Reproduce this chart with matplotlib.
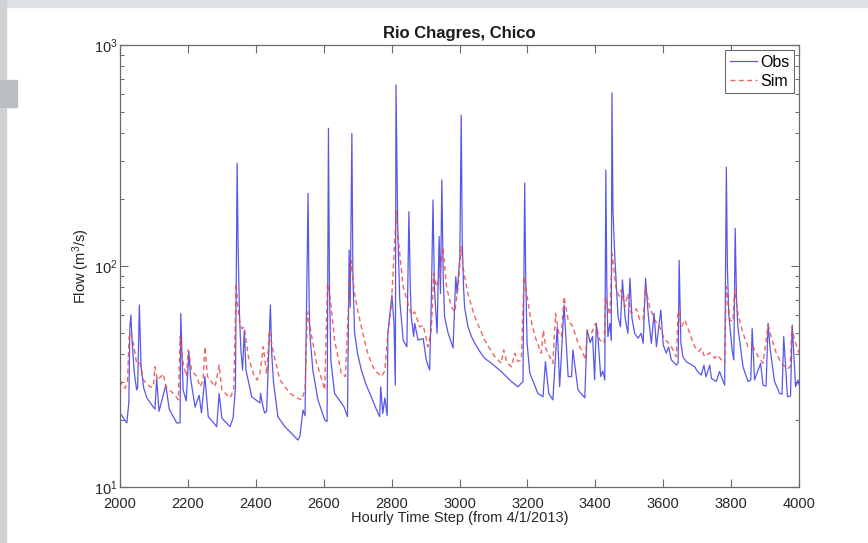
import numpy as np
import matplotlib
matplotlib.use("Agg")
import matplotlib.pyplot as plt
from matplotlib.patches import Rectangle
from matplotlib.ticker import LogLocator, NullLocator, NullFormatter

plt.rcParams["font.family"] = ["Liberation Sans", "DejaVu Sans"]
plt.rcParams["mathtext.fontset"] = "custom"
plt.rcParams["mathtext.rm"] = "Liberation Sans"
plt.rcParams["mathtext.it"] = "Liberation Sans:italic"

obs_t = [2000, 2020, 2026, 2029, 2032, 2036, 2042, 2049, 2052, 2057, 2062, 2070, 2079, 2098, 2103,
         2108, 2115, 2135, 2145, 2167, 2177, 2179, 2186, 2195, 2203, 2208, 2221, 2233, 2240, 2250,
         2260, 2285, 2292, 2300, 2324, 2333, 2340, 2345, 2348, 2352, 2356, 2361, 2366, 2371, 2388,
         2412, 2414, 2420, 2426, 2432, 2443, 2447, 2452, 2465, 2485, 2505, 2524, 2530, 2539, 2545,
         2554, 2557, 2559, 2568, 2583, 2603, 2610, 2614, 2617, 2621, 2632, 2652, 2660, 2670, 2675,
         2678, 2683, 2686, 2691, 2700, 2711, 2725, 2740, 2755, 2765, 2768, 2774, 2780, 2787, 2789,
         2801, 2807, 2811, 2813, 2818, 2824, 2834, 2845, 2851, 2855, 2858, 2865, 2868, 2878, 2893,
         2902, 2912, 2917, 2922, 2926, 2934, 2940, 2944, 2948, 2952, 2956, 2966, 2981, 2989, 2993,
         3001, 3005, 3008, 3012, 3015, 3025, 3035, 3045, 3060, 3074, 3094, 3123, 3153, 3172, 3187,
         3192, 3195, 3199, 3207, 3231, 3246, 3253, 3263, 3275, 3288, 3295, 3308, 3320, 3330, 3334,
         3349, 3369, 3376, 3385, 3392, 3398, 3403, 3408, 3416, 3422, 3428, 3431, 3434, 3437, 3443,
         3447, 3449, 3452, 3457, 3467, 3474, 3480, 3488, 3496, 3502, 3508, 3516, 3526, 3535, 3541,
         3548, 3556, 3565, 3573, 3580, 3593, 3600, 3609, 3616, 3624, 3639, 3644, 3647, 3652, 3658,
         3668, 3693, 3700, 3712, 3720, 3726, 3737, 3742, 3756, 3766, 3775, 3781, 3786, 3789, 3793,
         3803, 3808, 3812, 3816, 3820, 3835, 3850, 3858, 3862, 3869, 3887, 3894, 3903, 3909, 3915,
         3928, 3943, 3950, 3955, 3966, 3975, 3980, 3990, 3997, 4000]
obs_q = [21.6, 19.5, 24, 53, 60, 45, 33, 27.5, 28, 66.6, 35, 28, 25.3, 23, 22.5,
         31, 22, 28.9, 22.5, 19.5, 19.5, 61, 27.5, 24.5, 41, 31, 23, 26, 21.6, 31.6,
         20.8, 18.75, 26.5, 20.5, 18.75, 20.5, 28, 292, 120, 60, 42, 33.8, 51, 33.8, 25.6,
         24, 26.5, 23.5, 21.6, 22, 66.6, 40, 30, 20.8, 18.8, 17.5, 16.3, 17, 22.3, 21,
         213, 70, 49.6, 33.8, 24.8, 20.1, 19.8, 420, 80, 37.6, 26.5, 24, 23, 20.8, 118,
         65, 398, 90, 49.6, 40, 33.8, 29, 25.6, 22.5, 20.8, 28.4, 21.5, 25.3, 21, 49.6,
         73.9, 55, 28.9, 660, 150, 70.2, 46.2, 43.1, 176, 80, 59, 48, 55, 46.2, 47,
         37.6, 33.8, 70, 199, 80, 49.6, 136, 75, 245, 90, 59, 50, 42.6, 89.5, 75,
         110, 482, 130, 80, 65, 53.1, 48, 44.7, 41, 38.2, 36.3, 33.3, 30.0, 28.4, 30.0,
         237, 90, 45, 32.8, 26.5, 25.6, 36.9, 26.5, 24.8, 53.1, 28.4, 66.6, 31.6, 31.6, 41.7,
         27.5, 25.3, 51.3, 45, 48, 30.5, 55, 47, 31.6, 33.5, 30.5, 272, 80, 47.9, 55,
         46, 607, 180, 114, 59, 53.1, 86.5, 58, 49.6, 88, 58, 49.6, 47.1, 49.6, 44.7,
         88, 60, 44.7, 61.1, 43.1, 63.2, 44, 40.3, 43, 37.6, 35.6, 36.5, 106, 45, 38.9,
         36.9, 35, 33.5, 32.1, 35.6, 31.5, 35.6, 31, 30, 33.3, 30.5, 28.9, 280, 100, 61.1,
         41.7, 37.6, 148, 70, 53.1, 35, 30, 30.5, 52.2, 30.5, 36.3, 28.9, 28.6, 55, 42,
         30, 26.5, 26.3, 47.9, 25.6, 25.8, 54.1, 28.4, 30.5, 29]

# simulated flow
sim_t = [2000, 2009, 2015, 2022, 2027, 2032, 2040, 2049, 2059, 2069, 2088, 2098, 2103, 2110, 2128,
         2135, 2157, 2172, 2177, 2186, 2196, 2201, 2211, 2226, 2236, 2245, 2250, 2258, 2280, 2292,
         2300, 2324, 2335, 2342, 2347, 2353, 2360, 2366, 2378, 2393, 2403, 2412, 2422, 2432, 2440,
         2450, 2471, 2501, 2520, 2535, 2545, 2552, 2563, 2579, 2583, 2603, 2611, 2620, 2632, 2652,
         2664, 2672, 2681, 2686, 2691, 2700, 2711, 2720, 2730, 2740, 2750, 2770, 2780, 2789, 2799,
         2814, 2818, 2824, 2834, 2848, 2858, 2868, 2883, 2893, 2907, 2917, 2924, 2932, 2942, 2951,
         2962, 2976, 2986, 2996, 3005, 3010, 3018, 3025, 3035, 3045, 3060, 3074, 3090, 3104, 3123,
         3130, 3140, 3153, 3163, 3172, 3182, 3190, 3197, 3207, 3215, 3226, 3241, 3247, 3255, 3275,
         3283, 3292, 3300, 3308, 3320, 3334, 3349, 3364, 3371, 3376, 3390, 3401, 3413, 3426, 3430,
         3437, 3443, 3450, 3455, 3462, 3470, 3477, 3487, 3496, 3506, 3521, 3531, 3541, 3548, 3560,
         3575, 3590, 3604, 3612, 3624, 3639, 3644, 3654, 3664, 3678, 3693, 3705, 3712, 3722, 3737,
         3752, 3760, 3776, 3781, 3786, 3796, 3805, 3811, 3820, 3835, 3850, 3865, 3880, 3894, 3909,
         3918, 3933, 3948, 3966, 3974, 3979, 3987, 3997, 4000]
sim_q = [30.5, 28.4, 28, 30, 47.9, 50, 44, 36.3, 36.3, 30.5, 28.4, 28.4, 35, 30.5, 32.5,
         28.4, 26.5, 24.8, 47.9, 36.3, 31.6, 41.7, 33.8, 31.6, 28.4, 30.5, 43.1, 31.6, 28.4, 35.6,
         27.5, 25.3, 27.5, 83.5, 65, 55, 52, 53, 38.9, 32.5, 30.5, 32.5, 43.1, 32.5, 51.3,
         41.7, 30.5, 26.5, 25.3, 24.8, 27.5, 62, 49.6, 36.3, 35, 27.5, 83.5, 70, 46.2, 32.5,
         31.6, 61, 106, 88, 75, 63, 53, 46, 40.3, 36.5, 33.8, 31.6, 33.5, 49.6, 65.4,
         179, 140, 114, 80.6, 67.8, 60, 62, 53, 54, 43.1, 51.3, 92.7, 80.6, 89.5, 122,
         80, 65.4, 62, 80.6, 122, 99.3, 85, 75, 66, 59, 52, 46.2, 42, 38.9, 36.3,
         41.7, 36.5, 35, 40.3, 37, 37.6, 89.5, 77, 61, 53, 46.2, 40.3, 51.3, 42, 36.3,
         61, 50, 48, 72.6, 57, 53, 44.7, 40.3, 37.6, 51.3, 50, 55, 46.2, 44.7, 72.6,
         65, 60, 114, 95, 78, 73, 78, 65.4, 75, 61, 64, 57, 57, 80.6, 65.4,
         57, 53, 46.2, 45.5, 43.1, 38.9, 63, 53, 57, 49.6, 43.1, 41, 42.4, 38.9, 40.5,
         38.3, 39.5, 36.9, 36.3, 80.6, 57, 56, 78, 61, 49.6, 43.1, 43, 38.9, 36.3, 54,
         47.9, 40.3, 36.3, 34.2, 35, 53, 46.2, 41.7, 40.3]

x_ticks = [2000, 2200, 2400, 2600, 2800, 3000, 3200, 3400, 3600, 3800, 4000]

fig = plt.figure(figsize=(8.68, 5.43), dpi=100)

# slide-like grey border from the screenshot
fig.patches.append(Rectangle((0, 1 - 7 / 543), 1, 7 / 543, transform=fig.transFigure,
                             color="#e0e3e6", zorder=0))
fig.patches.append(Rectangle((0, 0), 6 / 868, 1, transform=fig.transFigure,
                             color="#d0d3d6", zorder=0))
fig.patches.append(Rectangle((0, 1 - 107 / 543), 17 / 868, 27 / 543, transform=fig.transFigure,
                             color="#bcbfc2", zorder=0))

ax = fig.add_axes([120 / 868, 1 - 487 / 543, 679 / 868, 442 / 543])
ax.plot(obs_t, obs_q, color="#3a3ae8", lw=0.9, alpha=0.85, label="Obs")
ax.plot(sim_t, sim_q, color="#ec4b45", lw=1.0, ls=(0, (3.5, 2.5)), alpha=0.85, label="Sim")

ax.set_yscale("log")
ax.set_xlim(2000, 4000)
ax.set_ylim(10, 1000)
ax.set_xticks(x_ticks)
ax.xaxis.set_minor_locator(NullLocator())
ax.yaxis.set_major_locator(LogLocator(base=10, numticks=5))
ax.yaxis.set_minor_locator(LogLocator(base=10, subs=np.arange(2, 10), numticks=20))
ax.yaxis.set_minor_formatter(NullFormatter())

for s in ax.spines.values():
    s.set_color("#6a6a6a")
    s.set_linewidth(0.9)
ax.tick_params(which="both", direction="in", top=True, right=True, colors="#6a6a6a",
               labelcolor="#262626", labelsize=10.5)
ax.tick_params(which="major", length=6, width=0.8)
ax.tick_params(which="minor", length=3, width=0.7)
ax.tick_params(axis="x", pad=7)
ax.tick_params(axis="y", pad=2)

ax.set_title("Rio Chagres, Chico", fontsize=12, fontweight="bold", color="#1a1a1a", pad=5)
ax.set_xlabel("Hourly Time Step (from 4/1/2013)", fontsize=10.5, color="#262626", labelpad=0)
ax.set_ylabel("Flow (m$^3$/s)", fontsize=10.5, color="#262626", labelpad=1)

leg = ax.legend(loc="upper right", fontsize=11.5, handlelength=1.7, handletextpad=0.2,
                borderpad=0.3, labelspacing=0.25, borderaxespad=0.3, fancybox=False,
                framealpha=1)
leg.get_frame().set_edgecolor("#6a6a6a")
leg.get_frame().set_linewidth(0.8)

fig.savefig("out.png", dpi=100)
